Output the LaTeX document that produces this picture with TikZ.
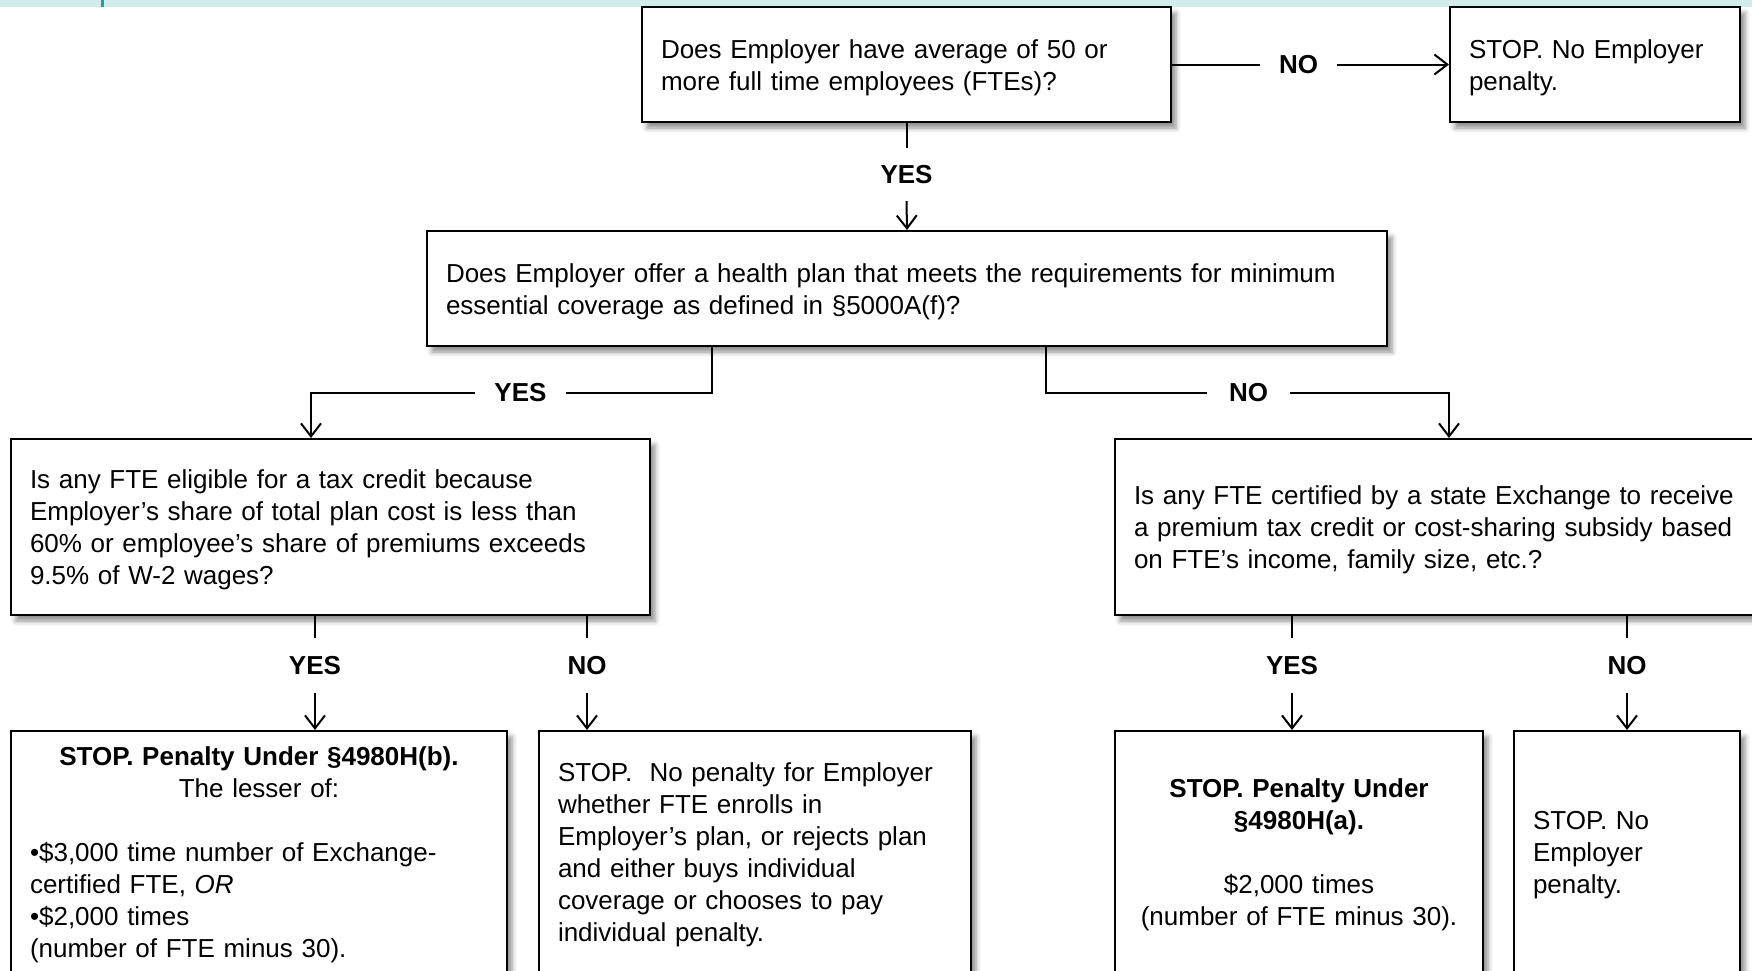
\documentclass[tikz,border=0pt]{standalone}
\usepackage{fontspec}
\setmainfont{Liberation Sans}
\usetikzlibrary{arrows.meta,shadows.blur,calc}
\definecolor{bandc}{HTML}{D2ECEC}
\definecolor{tealline}{HTML}{2AA08E}
\begin{document}
\begin{tikzpicture}[x=1pt,y=-1pt,
  txt/.style={font=\fontsize{26}{32}\selectfont},
  box/.style={txt, draw=black, line width=2pt, fill=white, rectangle,
    inner xsep=19pt, inner ysep=0pt, align=left,
    execute at begin node={\rule{0pt}{25pt}},
    blur shadow={shadow xshift=5pt, shadow yshift=-6pt, shadow blur radius=5pt, shadow opacity=45}},
  lbl/.style={font=\fontsize{26}{32}\selectfont\bfseries, inner sep=0pt},
  conn/.style={line width=2pt},
  arr/.style={conn, -{Straight Barb[length=13pt,width=20pt]}}]
\useasboundingbox (0,0) rectangle (1752,970);
\clip (0,0) rectangle (1752,970);
\fill[bandc] (0,0) rectangle (1752,7);
\fill[tealline] (101,0) rectangle (104,7);

% boxes
\node[box, text width=491pt, minimum height=115pt] (q1) at (906.5,64.5)
  {Does Employer have average of 50 or\\more full time employees (FTEs)?};
\node[box, text width=252pt, minimum height=115pt] (s1) at (1595,64.5)
  {STOP. No Employer\\penalty.};
\node[box, text width=922pt, minimum height=115pt] (q2) at (907,288.5)
  {Does Employer offer a health plan that meets the requirements for minimum\\essential coverage as defined in §5000A(f)?};
\node[box, text width=601pt, minimum height=176pt] (q3) at (330.5,527)
  {Is any FTE eligible for a tax credit because\\Employer’s share of total plan cost is less than\\60\% or employee’s share of premiums exceeds\\9.5\% of W-2 wages?};
\node[box, text width=617pt, minimum height=176pt] (q4) at (1442.5,527)
  {Is any FTE certified by a state Exchange to receive\\a premium tax credit or cost-sharing subsidy based\\on FTE’s income, family size, etc.?};
\node[box, text width=458pt, minimum height=242pt] (r1) at (259,852)
  {\makebox[\hsize][c]{\bfseries STOP. Penalty Under §4980H(b).}\\
   \makebox[\hsize][c]{The lesser of:}\\[32pt]
   •\$3,000 time number of Exchange-\\certified FTE, \textit{OR}\\•\$2,000 times\\(number of FTE minus 30).};
\node[box, text width=394pt, minimum height=242pt] (r2) at (755,852)
  {STOP.\ \ No penalty for Employer\\whether FTE enrolls in\\Employer’s plan, or rejects plan\\and either buys individual\\coverage or chooses to pay\\individual penalty.};
\node[box, text width=330pt, minimum height=242pt, align=center] (r3) at (1299,852)
  {\textbf{STOP. Penalty Under}\\\textbf{§4980H(a).}\\[32pt]\$2,000 times\\(number of FTE minus 30).};
\node[box, text width=188pt, minimum height=242pt] (r4) at (1627,852)
  {STOP. No\\Employer\\penalty.};

% labels
\node[lbl, minimum width=77pt] (no1) at (1298.5,64.5) {NO};
\node[lbl, minimum height=53pt] (yes1) at (906.5,174.5) {YES};
\node[lbl, minimum width=91pt] (yes2) at (520.5,393) {YES};
\node[lbl, minimum width=83pt] (no2) at (1248.5,393) {NO};
\node[lbl, minimum height=55pt] (yes3) at (315,665.5) {YES};
\node[lbl, minimum height=55pt] (no3) at (587,665.5) {NO};
\node[lbl, minimum height=55pt] (yes4) at (1292,665.5) {YES};
\node[lbl, minimum height=55pt] (no4) at (1627,665.5) {NO};

% connectors
\draw[conn] (q1.east) -- (no1.west);
\draw[arr] (no1.east) -- (s1.west);
\draw[conn] (q1.south) -- (yes1.north);
\draw[arr] (yes1.south) -- (q2.north);

\draw[conn] ([xshift=286pt]q2.south west) |- (yes2.east);
\draw[arr] (yes2.west) -| ([xshift=-19.5pt]q3.north);
\draw[conn] ([xshift=620pt]q2.south west) |- (no2.west);
\draw[arr] (no2.east) -| ([xshift=335pt]q4.north west);

\draw[conn] (q3.south -| yes3) -- (yes3.north);
\draw[arr] (yes3.south) -- (yes3.south |- r1.north);
\draw[conn] (q3.south -| no3) -- (no3.north);
\draw[arr] (no3.south) -- (no3.south |- r2.north);
\draw[conn] (q4.south -| yes4) -- (yes4.north);
\draw[arr] (yes4.south) -- (yes4.south |- r3.north);
\draw[conn] (q4.south -| no4) -- (no4.north);
\draw[arr] (no4.south) -- (no4.south |- r4.north);
\end{tikzpicture}
\end{document}
